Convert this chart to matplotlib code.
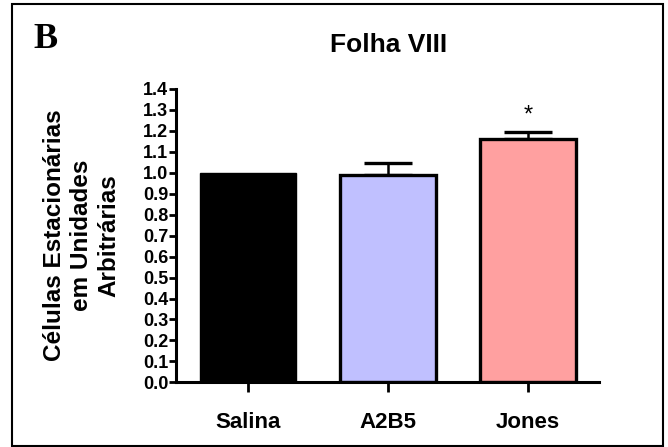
import matplotlib.pyplot as plt
from matplotlib.patches import Rectangle

# Dados da figura (médias normalizadas e erro padrão)
grupos = ['Salina', 'A2B5', 'Jones']
medias = [1.0, 0.99, 1.16]
erros = [0.0, 0.054, 0.035]
cores = ['#000000', '#c0c0ff', '#ffa0a0']
bordas = [1.0, 2.4, 2.4]
significativo = [False, False, True]
yticks = [i / 10 for i in range(15)]

plt.rcParams['font.family'] = ['Liberation Sans', 'DejaVu Sans']
plt.rcParams['font.weight'] = 'bold'

fig = plt.figure(figsize=(6.68, 4.47), dpi=100)
ax = fig.add_axes([0.2635, 0.1443, 0.6332, 0.6577])

x = list(range(len(grupos)))
ax.bar(x, medias, width=0.68, color=cores, edgecolor='black',
       linewidth=bordas, zorder=2)

# Barras de erro só para cima
for xi, m, e, sig in zip(x, medias, erros, significativo):
    if e > 0:
        ax.errorbar(xi, m, yerr=[[0], [e]], fmt='none', ecolor='black',
                    elinewidth=1.8, capsize=17, capthick=2.4, zorder=1)
    if sig:
        ax.text(xi, m + e + 0.075, '*', ha='center', va='center',
                fontsize=17, fontweight='normal')

ax.set_xlim(-0.514, 2.507)
ax.set_ylim(0, 1.4)
ax.set_xticks(x)
ax.set_xticklabels(grupos, fontsize=16, fontweight='bold')
ax.set_yticks(yticks)
ax.set_yticklabels([f'{v:.1f}' for v in yticks], fontsize=13, fontweight='bold')

for s in ['top', 'right']:
    ax.spines[s].set_visible(False)
for s in ['left', 'bottom']:
    ax.spines[s].set_linewidth(2.2)

ax.tick_params(axis='y', length=5, width=2, pad=0.5)
ax.tick_params(axis='x', length=7, width=2, pad=14)

ax.set_ylabel('Células Estacionárias\nem Unidades\nArbitrárias', fontsize=17.5,
              fontweight='bold', linespacing=1.25, labelpad=16)

fig.text(389 / 668, 1 - 45 / 447, 'Folha VIII', ha='center', va='center',
         fontsize=19, fontweight='bold')
fig.text(46 / 668, 1 - 40 / 447, 'B', ha='center', va='center',
         fontsize=26, fontweight='bold', family='Liberation Serif')

# Moldura em volta da figura
fig.patches.append(Rectangle((12.5 / 668, 1.5 / 447), 650 / 668, 441.5 / 447,
                             transform=fig.transFigure, fill=False,
                             edgecolor='black', linewidth=1.5))

fig.savefig('out.png', dpi=100)
